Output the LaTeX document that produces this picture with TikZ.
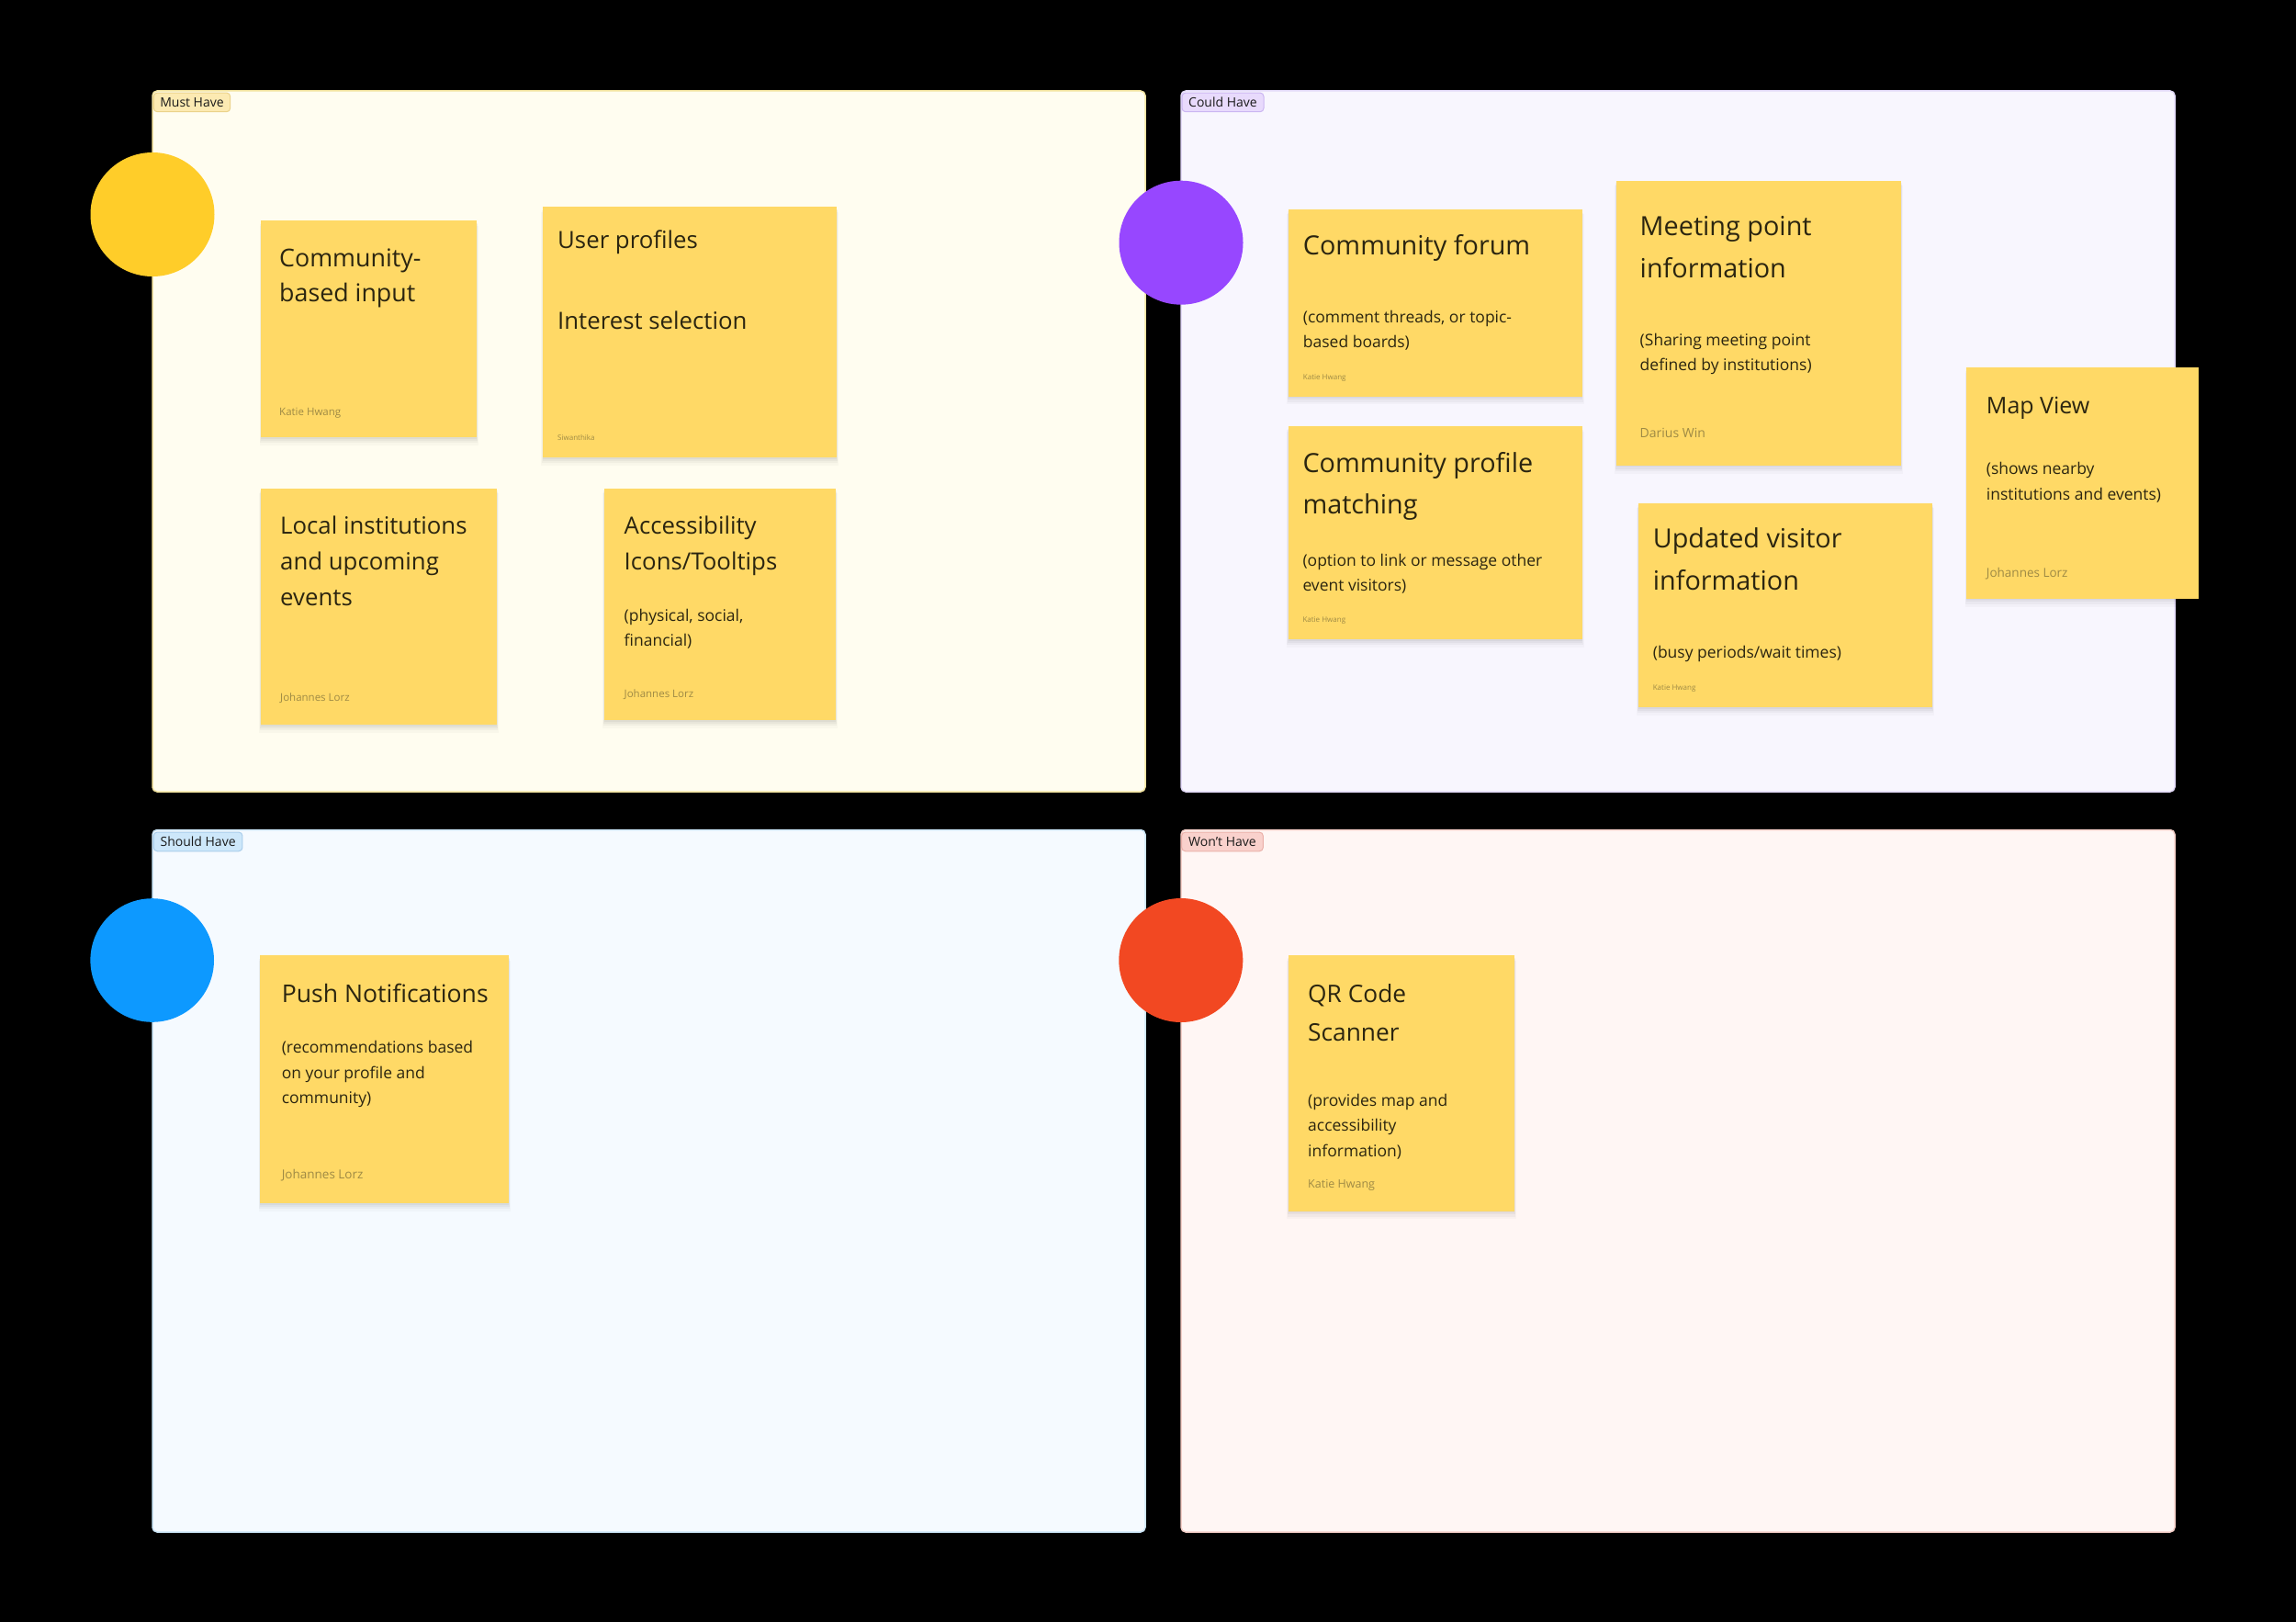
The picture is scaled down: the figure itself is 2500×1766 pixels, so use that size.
\documentclass[tikz,border=0pt]{standalone}
\usepackage{fontspec}
\setmainfont{Open Sans}
\usetikzlibrary{shadows}
\newcommand\stlines[1]{\vtop{\halign{##\hfil\cr#1\crcr}}}
\definecolor{stickyc}{HTML}{FFD966}
\definecolor{titlec}{HTML}{2B2510}
\definecolor{authc}{HTML}{9E8A45}
\definecolor{pfa}{HTML}{FFFDF0}\definecolor{pba}{HTML}{F2E3A0}
\definecolor{pfb}{HTML}{F8F6FE}\definecolor{pbb}{HTML}{E3DAF8}
\definecolor{pfc}{HTML}{F5FAFF}\definecolor{pbc}{HTML}{CBE5F7}
\definecolor{pfd}{HTML}{FFF6F4}\definecolor{pbd}{HTML}{F5CFC8}
\definecolor{tfa}{HTML}{FCEAB2}\definecolor{tba}{HTML}{EBD28A}
\definecolor{tfb}{HTML}{E8DAFC}\definecolor{tbb}{HTML}{CBB6F2}
\definecolor{tfc}{HTML}{CDE7FA}\definecolor{tbc}{HTML}{A9CDEB}
\definecolor{tfd}{HTML}{F9D1CC}\definecolor{tbd}{HTML}{EBB1AA}
\definecolor{cya}{HTML}{FFCD29}
\definecolor{cpu}{HTML}{9747FF}
\definecolor{cbl}{HTML}{0D99FF}
\definecolor{cre}{HTML}{F24822}
\tikzset{
  panel/.style={line width=1.5pt, rounded corners=5pt},
  tagbox/.style={rounded corners=4pt, line width=1pt, inner sep=0pt,
    minimum height=20.7pt, font=\fontsize{14}{16}\selectfont, text=black!90},
  sticky/.style={fill=stickyc, draw=none, inner sep=0pt, anchor=north west,
    general shadow={fill=black, opacity=0.025, shadow yshift=-7pt, shadow scale=1.012},
    general shadow={fill=black, opacity=0.03, shadow yshift=-5pt, shadow scale=1.008},
    general shadow={fill=black, opacity=0.035, shadow yshift=-3pt, shadow scale=1.004},
    general shadow={fill=black, opacity=0.04, shadow yshift=-1.5pt}},
  ttl/.style={anchor=base west, inner sep=0pt, text=titlec},
  tA/.style={ttl, font=\fontsize{26.8}{38.5}\selectfont},
  tB/.style={ttl, font=\fontsize{28.8}{46}\selectfont},
  tC/.style={ttl, font=\fontsize{25}{30}\selectfont},
  dsc/.style={ttl, font=\fontsize{17.5}{27.4}\selectfont},
  auth/.style={anchor=base west, inner sep=0pt, text=authc},
  auL/.style={auth, font=\fontsize{13.5}{16}\selectfont},
  auM/.style={auth, font=\fontsize{11.5}{14}\selectfont},
  auS/.style={auth, font=\fontsize{8}{10}\selectfont},
}
\begin{document}
\begin{tikzpicture}[x=1pt,y=-1pt]
\useasboundingbox (0,0) rectangle (2500,1766);
\fill[black] (0,0) rectangle (2500,1766);
% panels
\draw[panel, fill=pfa, draw=pba] (166,99) rectangle (1247,862);
\draw[panel, fill=pfb, draw=pbb] (1286,99) rectangle (2368,862);
\draw[panel, fill=pfc, draw=pbc] (166,903.5) rectangle (1247,1668);
\draw[panel, fill=pfd, draw=pbd] (1286,903.5) rectangle (2368,1668);
% circles
\fill[cya] (166,233.5) circle (67.5);
\fill[cpu] (1286,264.2) circle (67.5);
\fill[cbl] (165.7,1045.5) circle (67.3);
\fill[cre] (1285.8,1045.5) circle (67.5);
% tags
\node[tagbox, fill=tfa, draw=tba, minimum width=83.4pt] (tg1) at (209,111.4) {Must Have};
\node[tagbox, fill=tfb, draw=tbb, minimum width=89pt] (tg2) at (1331.5,111.4) {Could Have};
\node[tagbox, fill=tfc, draw=tbc, minimum width=96.7pt] (tg3) at (215.6,916.4) {Should Have};
\node[tagbox, fill=tfd, draw=tbd, minimum width=88.6pt] (tg4) at (1331,916.4) {Won't Have};
% stickies
\node[sticky, minimum width=235pt, minimum height=236pt] (s1) at (284,240) {};
\node[sticky, minimum width=320pt, minimum height=273pt] (s2) at (591,225) {};
\node[sticky, minimum width=257.5pt, minimum height=257.3pt] (s3) at (283.5,531.7) {};
\node[sticky, minimum width=252.4pt, minimum height=252.3pt] (s4) at (657.6,531.7) {};
\node[sticky, minimum width=319.8pt, minimum height=204.4pt] (s5) at (1402.6,227.3) {};
\node[sticky, minimum width=310pt, minimum height=310pt] (s6) at (1759.7,196.7) {};
\node[sticky, minimum width=320.2pt, minimum height=232pt] (s7) at (1402.3,464) {};
\node[sticky, minimum width=320.1pt, minimum height=222.7pt] (s8) at (1783.7,547.3) {};
\node[sticky, minimum width=252.3pt, minimum height=251.7pt] (s9) at (2141,400) {};
\node[sticky, minimum width=270.6pt, minimum height=270pt] (s10) at (283.2,1040) {};
\node[sticky, minimum width=246.3pt, minimum height=278.3pt] (s11) at (1402.7,1040) {};
% texts: Must Have
\node[tA] (s1t) at (304,290) {\stlines{Community-\cr based input}};
\node[auM] (s1a) at (304,452) {Katie Hwang};
\node[tA, font=\fontsize{25.8}{88}\selectfont] (s2t) at (607,270) {\stlines{User profiles\cr Interest selection}};
\node[auS] (s2a) at (607,479) {Siwanthika};
\node[tA, font=\fontsize{25.8}{38.7}\selectfont] (s3t) at (305,581.7) {\stlines{Local institutions\cr and upcoming\cr events}};
\node[auM] (s3a) at (305,763) {Johannes Lorz};
\node[tA, font=\fontsize{25.8}{38.5}\selectfont] (s4t) at (679.5,581.7) {\stlines{Accessibility\cr Icons/Tooltips}};
\node[dsc] (s4d) at (679.5,676) {\stlines{(physical, social,\cr financial)}};
\node[auM] (s4a) at (679.5,759) {Johannes Lorz};
% Could Have
\node[tB] (s5t) at (1418.7,277.3) {Community forum};
\node[dsc, font=\fontsize{17.5}{26.7}\selectfont] (s5d) at (1418.7,351.7) {\stlines{(comment threads, or topic-\cr based boards)}};
\node[auS] (s5a) at (1418.7,413.3) {Katie Hwang};
\node[tB] (s6t) at (1785.5,256.7) {\stlines{Meeting point\cr information}};
\node[dsc, font=\fontsize{17.5}{26.7}\selectfont] (s6d) at (1785.5,376.7) {\stlines{(Sharing meeting point\cr defined by institutions)}};
\node[auL, font=\fontsize{14}{16}\selectfont] (s6a) at (1785.5,476) {Darius Win};
\node[tB, font=\fontsize{28.8}{45.3}\selectfont] (s7t) at (1418.3,514) {\stlines{Community profile\cr matching}};
\node[dsc] (s7d) at (1418.3,616) {\stlines{(option to link or message other\cr event visitors)}};
\node[auS] (s7a) at (1418.3,677.7) {Katie Hwang};
\node[tB] (s8t) at (1799.6,596.7) {\stlines{Updated visitor\cr information}};
\node[dsc] (s8d) at (1799.6,716.7) {(busy periods/wait times)};
\node[auS] (s8a) at (1799.6,751.7) {Katie Hwang};
\node[tC] (s9t) at (2162.7,450) {Map View};
\node[dsc, font=\fontsize{17.5}{27.3}\selectfont] (s9d) at (2162.7,516.7) {\stlines{(shows nearby\cr institutions and events)}};
\node[auL] (s9a) at (2162.7,628.3) {Johannes Lorz};
% Should Have
\node[tA, font=\fontsize{26.6}{38}\selectfont] (s10t) at (306.6,1091.7) {Push Notifications};
\node[dsc, font=\fontsize{17.5}{27.5}\selectfont] (s10d) at (306.6,1146.7) {\stlines{(recommendations based\cr on your profile and\cr community)}};
\node[auL] (s10a) at (306.6,1283.3) {Johannes Lorz};
% Won't Have
\node[tA, font=\fontsize{26.3}{42.3}\selectfont] (s11t) at (1424,1091) {\stlines{QR Code\cr Scanner}};
\node[dsc, font=\fontsize{17.5}{27.7}\selectfont] (s11d) at (1424,1204) {\stlines{(provides map and\cr accessibility\cr information)}};
\node[auL, font=\fontsize{12.5}{15}\selectfont] (s11a) at (1424,1293.3) {Katie Hwang};
\end{tikzpicture}
\end{document}
